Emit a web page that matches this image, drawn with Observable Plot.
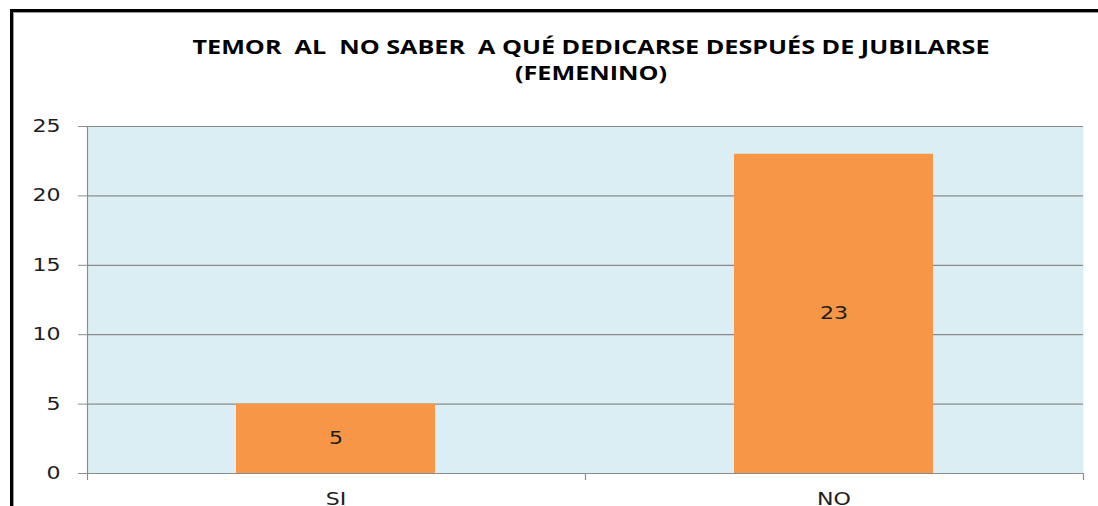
<!DOCTYPE html>
<html><head><meta charset="utf-8">
<script src="https://cdn.jsdelivr.net/npm/d3@7"></script>
<script src="https://cdn.jsdelivr.net/npm/@observablehq/plot@0.6"></script>
<style>
html,body{margin:0;padding:0;background:#fff;overflow:hidden;width:1098px;height:506px;}
#frame{position:absolute;left:10px;top:9px;width:1100px;height:520px;border-left:3px solid #000;border-top:3px solid #000;box-shadow:inset 1px 1px 0 #999;}
#title{position:absolute;left:0;top:34px;width:1182px;text-align:center;font-family:"Open Sans",sans-serif;font-weight:700;font-size:19px;line-height:26px;color:#000;white-space:pre;transform-origin:591px 0;}
#title span{display:inline-block;}
#chart{position:absolute;left:0;top:100px;}
</style>
</head><body>
<div id="frame"></div>
<div id="title"><span id="t1"></span><br><span id="t2"></span></div>
<div id="chart"></div>
<script>
const titleLines = ["TEMOR  AL  NO SABER  A QUÉ DEDICARSE DESPUÉS DE JUBILARSE", "(FEMENINO)"];
const categories = ["SI", "NO"];
const counts = [5, 23];
const yTicks = [0, 5, 10, 15, 20, 25];

const data = categories.map((c, i) => ({answer: c, count: counts[i]}));

document.getElementById("t1").textContent = titleLines[0];
document.getElementById("t2").textContent = titleLines[1];
const tw = document.getElementById("t1").getBoundingClientRect().width;
document.getElementById("title").style.transform = `scaleX(${797 / tw})`;

const gridColor = "#8c8c8c";
const textColor = "#1e1e1e";
const fontFam = "DejaVu Sans, Verdana, sans-serif";

const boundaries = (index, scales, values, dims) => {
  const {width, height, marginLeft, marginRight, marginTop, marginBottom} = dims;
  const x0 = marginLeft, x1 = width - marginRight, yb = height - marginBottom;
  const n = categories.length;
  const g = d3.create("svg:g").attr("stroke", gridColor).attr("stroke-width", 1.2);
  g.append("line").attr("x1", x0 + 0.5).attr("x2", x0 + 0.5).attr("y1", marginTop).attr("y2", yb + 7);
  for (let i = 1; i <= n; i++) {
    const xx = Math.round(x0 + i * (x1 - x0) / n) + 0.5;
    g.append("line").attr("x1", xx).attr("x2", xx).attr("y1", yb).attr("y2", yb + 7);
  }
  return g.node();
};

const plot = Plot.plot({
  width: 1098,
  height: 406,
  marginTop: 26,
  marginBottom: 33,
  marginLeft: 87,
  marginRight: 15,
  style: {fontFamily: fontFam, fontSize: "17px", background: "transparent", overflow: "visible"},
  x: {domain: categories, paddingInner: 0.6, paddingOuter: 0.3, label: null},
  y: {domain: [0, 25], label: null},
  marks: [
    Plot.frame({fill: "#dbeef4", stroke: null}),
    Plot.ruleY(yTicks, {stroke: gridColor, strokeWidth: 1.2}),
    Plot.barY(data, {x: "answer", y: "count", fill: "#f79646"}),
    Plot.text(data, {x: "answer", y: d => d.count / 2, text: d => String(d.count), fill: textColor, fontSize: 17}),
    Plot.axisY({ticks: yTicks, tickSize: 9, tickPadding: 18, stroke: gridColor, fill: textColor, fontSize: 17, label: null}),
    Plot.axisX({tickSize: 0, tickPadding: 19, fill: textColor, fontSize: 17, label: null}),
    boundaries
  ]
});

// horizontal stretch of texts (reference fonts look wide)
d3.select(plot).selectAll("text").each(function() {
  const el = d3.select(this);
  const t = el.attr("transform") || "";
  el.attr("transform", `${t} scale(1.3,1)`);
});

document.getElementById("chart").appendChild(plot);
</script>
</body></html>
